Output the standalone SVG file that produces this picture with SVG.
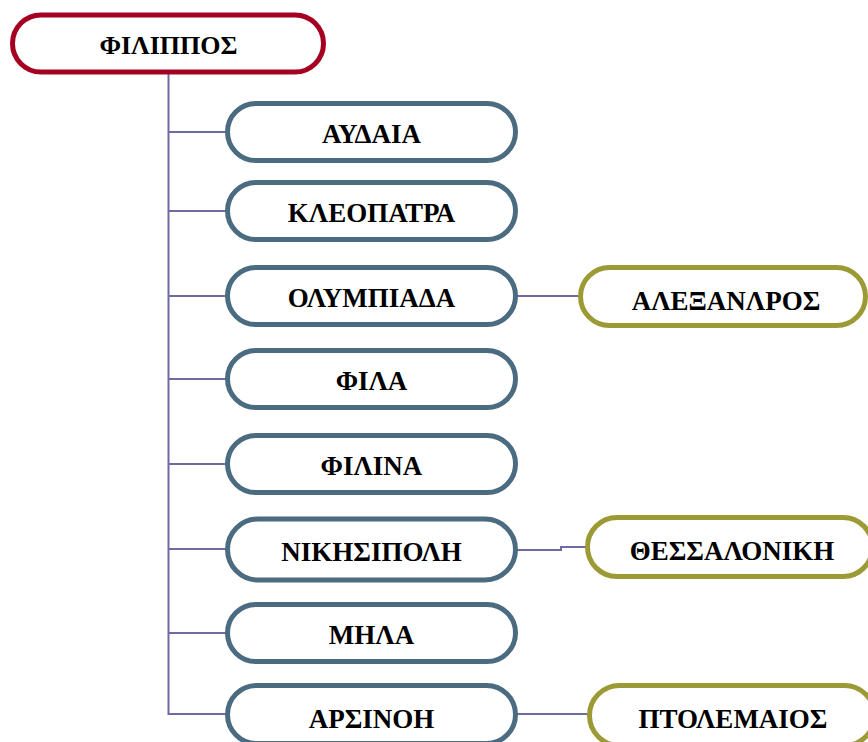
<svg xmlns="http://www.w3.org/2000/svg" width="868" height="742" viewBox="0 0 868 742">
<style>
.n rect{fill:#fff;stroke-width:5}
.root rect{stroke:#A50021}
.ch rect{stroke:#4A6B80}
.gc rect{stroke:#9C9A35}
text{font-family:"Liberation Serif","Times New Roman",serif;font-weight:bold;font-size:27px;text-anchor:middle;fill:#000}
#connectors path{fill:none;stroke:#6E6AA5;stroke-width:2}
</style>
<rect width="868" height="742" fill="#fff"/>
<g id="connectors">
<path d="M168.5,73 V714 H228"/>
<path d="M168.5,132 H228"/>
<path d="M168.5,211 H228"/>
<path d="M168.5,296 H228"/>
<path d="M168.5,379 H228"/>
<path d="M168.5,464 H228"/>
<path d="M168.5,549 H228"/>
<path d="M168.5,633 H228"/>
<path d="M516,296 H581"/>
<path d="M516,550 H561 V547 H586"/>
<path d="M516,714 H588"/>
</g>
<g id="n-filippos" class="n root"><rect x="12.5" y="15" width="311" height="57" rx="28.5"/><text x="168.5" y="54" style="font-size:26px">ΦΙΛΙΠΠΟΣ</text></g>
<g id="n-aydaia" class="n ch"><rect x="227.5" y="103.5" width="288" height="57" rx="28.5"/><text x="371.5" y="143">ΑΥΔΑΙΑ</text></g>
<g id="n-kleopatra" class="n ch"><rect x="227.5" y="182.5" width="288" height="57" rx="28.5"/><text x="371.5" y="222">ΚΛΕΟΠΑΤΡΑ</text></g>
<g id="n-olympiada" class="n ch"><rect x="227.5" y="267.5" width="288" height="57" rx="28.5"/><text x="371.5" y="307">ΟΛΥΜΠΙΑΔΑ</text></g>
<g id="n-fila" class="n ch"><rect x="227.5" y="350.5" width="288" height="57" rx="28.5"/><text x="371.5" y="390">ΦΙΛΑ</text></g>
<g id="n-filina" class="n ch"><rect x="227.5" y="435.5" width="288" height="57" rx="28.5"/><text x="371.5" y="475">ΦΙΛΙΝΑ</text></g>
<g id="n-nikisipoli" class="n ch"><rect x="227.5" y="519" width="288" height="61" rx="30.5"/><text x="371.5" y="561">ΝΙΚΗΣΙΠΟΛΗ</text></g>
<g id="n-mila" class="n ch"><rect x="227.5" y="604.5" width="288" height="57" rx="28.5"/><text x="371.5" y="644">ΜΗΛΑ</text></g>
<g id="n-arsinoi" class="n ch"><rect x="227.5" y="685.5" width="288" height="58" rx="29"/><text x="371.5" y="728">ΑΡΣΙΝΟΗ</text></g>
<g id="n-alexandros" class="n gc"><rect x="580.5" y="267.5" width="285" height="58" rx="29"/><text x="726" y="310">ΑΛΕΞΑΝΛΡΟΣ</text></g>
<g id="n-thessaloniki" class="n gc"><rect x="587.5" y="517.5" width="285" height="59" rx="29.5"/><text x="732" y="560">ΘΕΣΣΑΛΟΝΙΚΗ</text></g>
<g id="n-ptolemaios" class="n gc"><rect x="589.5" y="685.5" width="285" height="60" rx="30"/><text x="733" y="728">ΠΤΟΛΕΜΑΙΟΣ</text></g>
</svg>
